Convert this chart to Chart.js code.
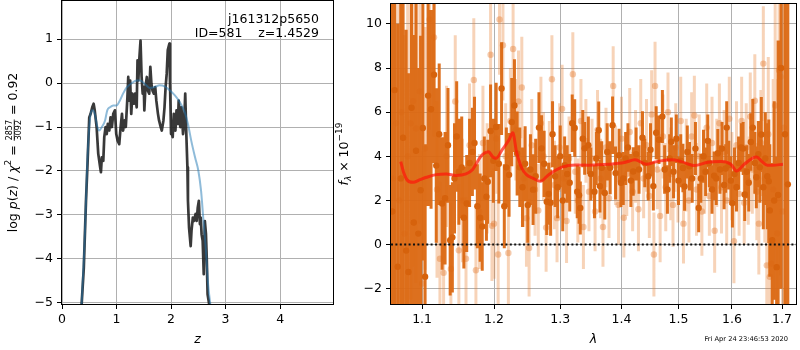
<!DOCTYPE html>
<html><head><meta charset="utf-8">
<script src="https://cdn.jsdelivr.net/npm/chart.js@4.4.1/dist/chart.umd.min.js"></script>
<style>
html,body{margin:0;padding:0;background:#fff;width:800px;height:350px;overflow:hidden;}
#c1{position:absolute;left:0;top:0;}
#c2{position:absolute;left:330px;top:0;}
</style></head><body>
<canvas id="c1" width="340" height="350"></canvas>
<canvas id="c2" width="470" height="350"></canvas>
<script>
// ---------- Left panel: redshift probability ----------
const pz_z = [0.36,0.40,0.44,0.47,0.50,0.525,0.555,0.58,0.60,0.635,
0.665,0.70,0.714,0.73,0.757,0.775,0.80,0.82,0.84,0.867,
0.89,0.915,0.94,0.97,0.995,1.02,1.05,1.075,1.10,1.12,
1.15,1.17,1.20,1.215,1.23,1.25,1.27,1.29,1.32,1.34,
1.37,1.385,1.40,1.42,1.44,1.46,1.48,1.50,1.51,1.53,
1.556,1.575,1.60,1.62,1.64,1.66,1.685,1.71,1.73,1.76,
1.78,1.81,1.83,1.86,1.88,1.90,1.92,1.94,1.97,1.98,
2.00,2.01,2.03,2.05,2.08,2.10,2.125,2.14,2.17,2.19,
2.22,2.24,2.26,2.28,2.30,2.31,2.33,2.36,2.375,2.40,
2.42,2.45,2.47,2.49,2.51,2.53,2.545,2.56,2.58,2.60,
2.62,2.64,2.655,2.67,2.70];
const pz_logp = [-5.04,-4.2,-2.68,-1.77,-0.78,-0.70,-0.55,-0.47,-0.62,-1.0,
-1.61,-1.92,-2.03,-1.69,-1.77,-1.23,-1.0,-1.16,-0.93,-1.08,
-0.78,-1.0,-0.70,-0.62,-1.16,-1.31,-1.39,-1.0,-0.70,-1.08,
-0.85,-1.0,-0.32,0.14,-0.40,0.06,-0.70,-0.24,-0.47,-0.24,
-0.55,0.52,0.06,0.59,0.97,0.14,-0.24,-0.09,-0.62,-0.09,
0.14,-0.17,-0.24,0.37,-0.02,-0.17,-0.24,-0.09,-0.40,-0.70,
-0.85,-1.0,-1.08,-0.85,-0.55,-0.09,0.21,0.75,0.90,0.06,
-1.16,-1.08,-1.23,-0.70,-1.08,-0.62,-0.93,-0.40,-1.0,-0.55,
-1.16,-0.93,-0.24,-1.16,-1.92,-2.68,-3.29,-3.71,-3.36,-3.06,
-3.14,-2.98,-3.14,-2.83,-2.68,-3.21,-3.06,-3.44,-3.59,-4.35,
-3.14,-3.44,-4.0,-4.81,-5.04];
const prior_z = [0.36,0.42,0.46,0.51,0.56,0.60,0.65,0.68,0.73,0.79,
0.83,0.88,0.94,1.0,1.06,1.12,1.18,1.28,1.37,1.43,
1.52,1.61,1.70,1.79,1.89,1.98,2.07,2.16,2.25,2.31,
2.37,2.44,2.50,2.55,2.59,2.64,2.68,2.72];
const prior_logp = [-5.04,-3.44,-1.92,-0.85,-0.62,-0.70,-1.0,-1.08,-1.0,-0.85,
-0.62,-0.55,-0.51,-0.51,-0.40,-0.24,-0.11,0.0,0.06,0.06,
-0.02,-0.11,-0.09,-0.05,-0.08,-0.17,-0.28,-0.43,-0.66,-0.93,
-1.31,-1.69,-1.99,-2.45,-3.06,-3.82,-4.58,-5.04];
const zTicks = [0,1,2,3,4];
const logpTicks = [-5,-4,-3,-2,-1,0,1];
const zRange = [0, 4.97];
const logpRange = [-5.03, 1.87];

// ---------- Right panel: spectrum ----------
const spec1_wave = [1.061,1.064,1.068,1.072,1.075,1.079,1.082,1.086,1.089,1.092,
1.095,1.098,1.101,1.104,1.108,1.112,1.116,1.119,1.123,1.127,
1.131,1.135,1.138,1.141,1.144,1.147,1.150,1.154,1.157,1.161,
1.165,1.169,1.172,1.176,1.180,1.183,1.186,1.189,1.191,1.195,
1.199,1.203,1.207,1.211,1.215,1.218,1.222,1.226,1.230,1.234,
1.238,1.242,1.246,1.250,1.254,1.258,1.262,1.267,1.271,1.275,
1.279,1.282,1.285,1.288,1.292,1.296,1.300,1.304,1.307,1.311,
1.315,1.319,1.323,1.327,1.330,1.332,1.336,1.339,1.345,1.349,
1.355,1.358,1.362,1.364,1.367,1.372,1.376,1.381,1.385,1.390,
1.396,1.399,1.403,1.407,1.411,1.416,1.420,1.425,1.430,1.436,
1.440,1.446,1.450,1.455,1.460,1.465,1.471,1.475,1.480,1.484,
1.487,1.491,1.496,1.500,1.504,1.508,1.511,1.516,1.520,1.525,
1.531,1.537,1.541,1.546,1.550,1.554,1.557,1.562,1.566,1.570,
1.573,1.577,1.581,1.585,1.588,1.590,1.594,1.598,1.601,1.605,
1.609,1.613,1.618,1.622,1.625,1.629,1.633,1.637,1.641,1.645,
1.648,1.652,1.655,1.658,1.662,1.666,1.670,1.673,1.675,1.680,
1.684,1.689,1.692,1.698,1.706,1.712];
const spec1_flux = [1.5,7.0,-1.0,3.0,4.84,-0.27,-1.24,6.2,1.0,4.25,
0.5,2.46,5.28,-1.45,6.75,6.13,7.70,3.58,5.0,1.86,
2.1,4.5,0.2,0.33,3.0,4.9,3.3,3.5,1.22,1.86,
3.7,4.2,4.6,1.74,1.22,0.82,3.0,2.17,2.85,5.15,
3.8,5.33,3.66,7.07,1.74,3.5,3.16,5.55,6.3,4.13,
3.5,2.6,3.66,1.79,3.4,2.49,3.1,5.3,4.36,3.66,
1.94,2.3,1.9,5.0,3.1,2.6,4.0,2.0,3.6,3.2,
2.8,5.5,5.28,2.4,2.24,1.66,4.8,4.36,4.5,3.2,
2.4,3.9,5.18,2.65,3.48,2.34,4.2,3.48,5.41,3.24,
4.05,2.8,3.0,3.9,4.4,2.9,3.31,4.1,3.4,4.84,
3.7,3.1,4.3,2.65,5.07,4.75,5.8,3.4,2.5,3.9,
4.66,3.3,4.8,2.9,3.8,3.47,2.63,4.2,3.55,3.0,
4.35,1.66,3.0,4.0,3.3,4.7,3.7,2.5,3.12,3.0,
4.14,3.4,4.35,2.7,3.45,5.3,3.6,2.9,1.88,3.2,
2.6,3.7,4.4,4.35,2.27,3.3,2.8,4.65,5.3,3.7,
3.05,4.1,3.5,4.99,2.6,3.9,3.1,2.87,1.55,0.2,
2.0,-1.02,2.25,8.0,5.0,2.73];
const spec1_err = [12,12,11,11,10,10,9,9,8.5,8,
7.5,7,6,6,5,4.5,4,3.5,3.2,3,
3,2.6,2.5,2.5,2.5,2.5,2.4,2.3,2.3,2.2,
2.0,2.0,2.1,1.9,2.0,2.0,1.9,2.0,1.9,2.1,
1.9,2.0,1.8,2.1,1.9,1.8,1.9,2.0,2.1,1.9,
1.8,1.8,1.7,1.7,1.6,1.6,1.7,1.6,1.5,1.5,
1.5,1.4,1.5,1.5,1.4,1.4,1.4,1.4,1.3,1.3,
1.3,1.3,1.3,1.2,1.3,1.2,1.3,1.2,1.3,1.2,
1.2,1.2,1.3,1.2,1.2,1.2,1.3,1.2,1.3,1.2,
1.2,1.1,1.2,1.2,1.1,1.2,1.1,1.2,1.1,1.2,
1.1,1.1,1.2,1.1,1.2,1.1,1.2,1.1,1.1,1.1,
1.1,1.2,1.1,1.1,1.2,1.1,1.1,1.2,1.1,1.1,
1.2,1.1,1.1,1.2,1.1,1.2,1.1,1.1,1.1,1.2,
1.1,1.1,1.2,1.1,1.1,1.2,1.1,1.1,1.1,1.2,
1.1,1.2,1.1,1.2,1.2,1.2,1.3,1.3,1.3,1.4,
1.4,1.5,1.6,1.7,1.9,2.1,2.4,2.8,3.0,3.5,
4.5,5,7,10,12,12];

const spec2_wave = [1.062,1.066,1.070,1.073,1.077,1.081,1.085,1.088,1.092,1.097,
1.100,1.104,1.110,1.116,1.120,1.124,1.129,1.133,1.139,1.145,
1.150,1.155,1.160,1.165,1.171,1.174,1.179,1.184,1.190,1.195,
1.197,1.200,1.203,1.206,1.208,1.213,1.217,1.221,1.224,1.228,
1.232,1.236,1.241,1.244,1.248,1.252,1.256,1.261,1.266,1.270,
1.274,1.278,1.283,1.287,1.291,1.295,1.299,1.303,1.306,1.310,
1.314,1.320,1.324,1.328,1.333,1.337,1.341,1.346,1.351,1.356,
1.360,1.365,1.369,1.374,1.379,1.386,1.390,1.395,1.400,1.404,
1.409,1.414,1.419,1.424,1.429,1.433,1.438,1.443,1.448,1.452,
1.456,1.458,1.462,1.467,1.472,1.477,1.481,1.486,1.490,1.495,
1.499,1.504,1.509,1.514,1.519,1.524,1.529,1.533,1.538,1.543,
1.548,1.552,1.557,1.562,1.567,1.571,1.576,1.580,1.585,1.590,
1.595,1.600,1.604,1.609,1.614,1.619,1.624,1.628,1.632,1.636,
1.640,1.645,1.649,1.653,1.657,1.662,1.665,1.669,1.672,1.675,
1.678,1.682,1.686,1.690,1.694,1.697,1.701,1.704];
const spec2_flux = [3.0,5.5,2.0,6.0,0.5,4.0,5.5,6.5,5.26,6.94,
-1.76,4.36,10.2,9.39,2.5,-0.64,-1.28,4.0,-1.1,6.48,
-0.26,2.0,-0.64,4.5,7.46,-1.16,1.5,4.6,3.0,8.6,
0.85,0.95,4.8,-0.45,10.2,9.03,4.0,-0.38,5.6,8.86,
5.2,6.49,7.12,3.0,1.2,-0.15,4.5,2.5,1.55,5.5,
4.0,0.77,3.6,7.49,2.7,1.2,4.4,6.15,3.0,1.07,
3.9,7.72,3.3,2.0,5.6,0.8,4.7,2.4,3.9,1.5,
5.2,3.0,0.8,4.4,2.1,7.19,3.6,1.8,4.8,1.22,
3.2,5.1,2.4,4.0,1.6,5.5,3.0,4.5,2.2,5.9,
-0.45,7.19,3.4,1.3,4.9,2.6,6.0,3.2,1.8,4.4,
2.9,5.6,0.95,3.6,2.0,4.9,5.85,2.5,4.0,1.5,
3.3,5.3,2.2,4.6,0.63,3.7,5.5,2.6,4.2,2.0,
5.7,3.1,0.15,4.5,2.3,5.6,1.9,4.4,2.9,5.8,
3.4,6.52,2.4,0.95,4.6,8.2,3.0,-0.94,5.0,-1.46,
-0.87,2.5,6.3,0.5,7.9,7.61,1.5,5.3];
const spec2_err = [10,10,9,9,9,8,8,7.5,7,6,
6,5.5,5,4.5,4,3.5,3.5,3.2,3,3,
3,2.8,2.8,2.8,2.8,2.8,2.6,2.6,2.5,2.6,
2.5,2.5,2.5,2.5,2.5,2.5,2.4,2.4,2.4,2.4,
2.3,2.3,2.3,2.2,2.2,2.2,2.1,2.1,2.1,2.1,
2.0,2.0,2.0,2.0,2.0,2.0,2.0,2.0,1.9,1.9,
1.9,1.9,1.9,1.9,1.9,1.9,1.9,1.8,1.8,1.8,
1.8,1.8,1.8,1.8,1.8,1.8,1.8,1.8,1.9,1.8,
1.9,2.0,1.8,2.1,1.9,2.0,1.8,2.1,1.9,2.0,
1.9,2.0,1.8,2.1,1.9,2.0,1.8,2.1,1.9,2.0,
1.9,2.0,1.8,2.1,1.9,2.0,1.8,2.1,1.9,2.0,
1.9,2.0,1.8,2.1,1.9,2.0,1.8,2.1,1.9,2.0,
1.9,2.0,1.9,2.0,1.9,2.0,1.9,2.0,2.0,2.0,
2.0,2.1,2.2,2.3,2.4,2.6,2.9,3.2,3.5,4,
4.5,5,6,7,8,9,10,10];

const model_wave = [1.072,1.076,1.080,1.088,1.097,1.106,1.119,1.133,1.146,1.160,
1.169,1.179,1.184,1.192,1.198,1.203,1.212,1.222,1.2275,1.233,
1.241,1.248,1.258,1.2695,1.282,1.303,1.324,1.345,1.356,1.378,
1.405,1.423,1.443,1.458,1.487,1.505,1.529,1.554,1.579,1.598,
1.609,1.624,1.648,1.660,1.670,1.681,1.702];
const model_flux = [3.76,3.24,2.94,2.82,2.94,3.05,3.17,3.2,3.13,3.2,
3.39,3.91,4.1,4.21,3.98,3.91,4.3,4.75,5.07,4.21,
3.46,3.17,3.0,2.87,3.17,3.51,3.61,3.6,3.61,3.64,
3.72,3.84,3.64,3.74,3.84,3.76,3.58,3.73,3.76,3.64,
3.34,3.64,3.97,3.75,3.60,3.60,3.64];
const zeroLevel = 0;
const waveTicks = [1.1,1.2,1.3,1.4,1.5,1.6,1.7];
const fluxTicks = [-2,0,2,4,6,8,10];
const waveRange = [1.0594, 1.729];
const fluxRange = [-2.69, 10.9];

// ---------- helpers ----------
const FONT = 'DejaVu Sans';
const FS = 12.5;
const minus = v => String(v).replace('-', '\u2212');
function pts(xs, ys){ return xs.map((x,i)=>({x:x, y:ys[i]})); }
function errSegs(w, f, e){
  const out = [];
  for (let i=0;i<w.length;i++){
    out.push({x:w[i], y:f[i]-e[i]}, {x:w[i], y:f[i]+e[i]}, {x:w[i], y:null});
  }
  return out;
}
function drawRich(ctx, cx, cy, segs, rot){
  ctx.save();
  ctx.translate(cx, cy);
  if (rot) ctx.rotate(-Math.PI/2);
  ctx.textBaseline = 'middle';
  ctx.fillStyle = '#000';
  const widths = segs.map(s => {
    ctx.font = s.f;
    if (s.frac) return Math.max(ctx.measureText(s.frac[0]).width, ctx.measureText(s.frac[1]).width) + 2;
    return ctx.measureText(s.t).width;
  });
  let x = -widths.reduce((a,b)=>a+b,0)/2;
  segs.forEach((s,i) => {
    ctx.font = s.f;
    if (s.frac){
      const w = widths[i];
      ctx.textAlign = 'center';
      ctx.fillText(s.frac[0], x+w/2, -4.3);
      ctx.fillText(s.frac[1], x+w/2, 4.8);
      ctx.fillRect(x+0.5, -0.2, w-1, 0.8);
    } else {
      ctx.textAlign = 'left';
      ctx.fillText(s.t, x, s.dy || 0);
    }
    x += widths[i];
  });
  ctx.restore();
}
const boxPlugin = {
  id: 'box',
  afterDatasetsDraw(chart){
    const a = chart.chartArea, ctx = chart.ctx;
    ctx.save();
    ctx.strokeStyle = '#000';
    ctx.lineWidth = 1;
    ctx.strokeRect(Math.round(a.left)-0.5, Math.round(a.top)-0.5, Math.round(a.right-a.left)+1, Math.round(a.bottom-a.top)+1);
    ctx.restore();
  }
};
function fixScale(w, h){
  return function(s){
    if (w !== null) s.width = w;
    if (h !== null) s.height = h;
    s.paddingTop = 0; s.paddingBottom = 0; s.paddingLeft = 0; s.paddingRight = 0;
  };
}
const gridOpts = {color:'#b0b0b0', lineWidth:1, tickLength:5, tickColor:'#000', tickWidth:1};
const tickFont = {family: FONT, size: FS};

// ---------- left chart ----------
new Chart(document.getElementById('c1'), {
  type: 'scatter',
  data: { datasets: [
    { data: pts(prior_z, prior_logp), showLine:true, borderColor:'rgba(31,119,180,0.5)', borderWidth:2,
      pointRadius:0, cubicInterpolationMode:'monotone', order:1, clip:0 },
    { data: pts(pz_z, pz_logp), showLine:true, borderColor:'rgba(30,30,30,0.88)', borderWidth:2.7,
      pointRadius:0, tension:0, order:2, clip:0, borderJoinStyle:'round' }
  ]},
  options: {
    responsive:false, animation:false, devicePixelRatio:1, events:[],
    layout: { padding: {top:1, right:7, left:0, bottom:0} },
    plugins: { legend:{display:false}, tooltip:{enabled:false} },
    scales: {
      x: { type:'linear', min:zRange[0], max:zRange[1], grid:gridOpts, border:{display:false},
           afterBuildTicks: s => { s.ticks = zTicks.map(v=>({value:v})); },
           afterFit: fixScale(null, 46),
           ticks: { font:tickFont, color:'#000', padding:3, maxRotation:0, callback: v => minus(v) } },
      y: { type:'linear', min:logpRange[0], max:logpRange[1], grid:gridOpts, border:{display:false},
           afterBuildTicks: s => { s.ticks = logpTicks.map(v=>({value:v})); },
           afterFit: fixScale(62, null),
           ticks: { font:tickFont, color:'#000', padding:4, callback: v => minus(v) } }
    }
  },
  plugins: [boxPlugin, {
    id:'leftText',
    afterDraw(chart){
      const ctx = chart.ctx, a = chart.chartArea;
      ctx.save();
      ctx.fillStyle = '#000';
      ctx.font = FS + 'px ' + FONT;
      ctx.textAlign = 'right'; ctx.textBaseline = 'middle';
      ctx.fillText('j161312p5650', 319, 20);
      ctx.fillText('ID=581    z=1.4529', 319, 34);
      ctx.font = 'italic ' + FS + 'px ' + FONT;
      ctx.textAlign = 'center';
      ctx.fillText('z', (a.left+a.right)/2, 340);
      ctx.restore();
      const N = FS + 'px ' + FONT, I = 'italic ' + FS + 'px ' + FONT, S = '9px ' + FONT;
      drawRich(ctx, 14, (a.top+a.bottom)/2, [
        {t:'log ', f:N}, {t:'p', f:I}, {t:'(', f:N}, {t:'z', f:I}, {t:') / ', f:N}, {t:'\u03c7', f:I},
        {t:'2', f:S, dy:-5}, {t:' = ', f:N}, {frac:['2857','3092'], f:'8px ' + FONT}, {t:' = 0.92', f:N}
      ], true);
    }
  }]
});

// ---------- right chart ----------
new Chart(document.getElementById('c2'), {
  type: 'scatter',
  data: { datasets: [
    { data: [{x:waveRange[0], y:zeroLevel},{x:waveRange[1], y:zeroLevel}], showLine:true, borderColor:'#111',
      borderWidth:2, borderDash:[2,2.4], pointRadius:0, order:0, clip:0 },
    { data: pts(model_wave, model_flux), showLine:true, borderColor:'rgba(255,20,10,0.7)', borderWidth:3,
      pointRadius:0, cubicInterpolationMode:'monotone', order:1, clip:0 },
    { data: pts(spec1_wave, spec1_flux), pointRadius:3.2, pointBorderWidth:0,
      pointBackgroundColor:'rgb(214,98,12)', order:2, clip:0 },
    { data: errSegs(spec1_wave, spec1_flux, spec1_err), showLine:true, spanGaps:false, pointRadius:0,
      borderColor:'rgba(219,104,18,0.95)', borderWidth:3, borderCapStyle:'butt', order:3, clip:0 },
    { data: pts(spec2_wave, spec2_flux), pointRadius:3.2, pointBorderWidth:0,
      pointBackgroundColor:'rgba(228,120,45,0.4)', order:4, clip:0 },
    { data: errSegs(spec2_wave, spec2_flux, spec2_err), showLine:true, spanGaps:false, pointRadius:0,
      borderColor:'rgba(230,120,40,0.33)', borderWidth:3, borderCapStyle:'butt', order:5, clip:0 }
  ]},
  options: {
    responsive:false, animation:false, devicePixelRatio:1, events:[],
    layout: { padding: {top:1, right:1, left:0, bottom:0} },
    plugins: { legend:{display:false}, tooltip:{enabled:false} },
    scales: {
      x: { type:'logarithmic', min:waveRange[0], max:waveRange[1], grid:gridOpts, border:{display:false},
           afterBuildTicks: s => { s.ticks = waveTicks.map(v=>({value:v})); },
           afterFit: fixScale(null, 46),
           ticks: { font:tickFont, color:'#000', padding:3, maxRotation:0, autoSkip:false,
                    callback: v => Number(v).toFixed(1) } },
      y: { type:'linear', min:fluxRange[0], max:fluxRange[1], grid:gridOpts, border:{display:false},
           afterBuildTicks: s => { s.ticks = fluxTicks.map(v=>({value:v})); },
           afterFit: fixScale(61, null),
           ticks: { font:tickFont, color:'#000', padding:4, callback: v => minus(v) } }
    }
  },
  plugins: [boxPlugin, {
    id:'rightText',
    afterDraw(chart){
      const ctx = chart.ctx, a = chart.chartArea;
      ctx.save();
      ctx.fillStyle = '#000';
      ctx.font = 'italic ' + FS + 'px ' + FONT;
      ctx.textAlign = 'center'; ctx.textBaseline = 'middle';
      ctx.fillText('\u03bb', (a.left+a.right)/2, 340);
      ctx.font = '6.7px ' + FONT;
      ctx.textAlign = 'right';
      ctx.fillText('Fri Apr 24 23:46:53 2020', 458, 339);
      ctx.restore();
      const N = FS + 'px ' + FONT, I = 'italic ' + FS + 'px ' + FONT;
      drawRich(ctx, 15, (a.top+a.bottom)/2, [
        {t:'f', f:I}, {t:'\u03bb', f:'italic 9px ' + FONT, dy:3.5}, {t:' \u00d7 10', f:N},
        {t:'\u221219', f:'9px ' + FONT, dy:-5}
      ], true);
    }
  }]
});
</script>
</body></html>
